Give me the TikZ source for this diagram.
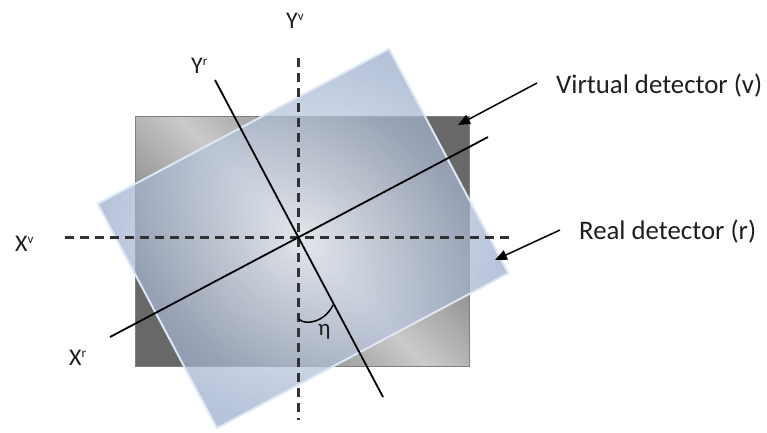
\documentclass[tikz,border=0pt]{standalone}
\usepackage{fontspec}
\setmainfont{Carlito}
\usetikzlibrary{arrows.meta}
\definecolor{gdark}{RGB}{104,104,104}
\definecolor{glight}{RGB}{202,202,202}
\definecolor{binner}{RGB}{236,241,249}
\definecolor{bouter}{RGB}{152,170,202}
\definecolor{bedge}{RGB}{222,231,244}
\definecolor{dashc}{RGB}{50,50,50}
\definecolor{txt}{RGB}{30,30,30}
\begin{document}
\begin{tikzpicture}[x=1pt,y=-1pt,
  axisline/.style={line width=1.8pt, black},
  dax/.style={line width=3pt, dashc, dash pattern=on 9pt off 6pt},
  arr/.style={line width=1.5pt, black, -{Triangle[length=12pt,width=10pt]}},
  lab/.style={font=\fontsize{26.8}{30}\selectfont, text=txt, inner sep=0pt, anchor=base west},
  axl/.style={font=\fontsize{24}{26}\selectfont, text=txt, inner sep=0pt, anchor=base west},
]
\useasboundingbox (0,0) rectangle (767,432);
\fill[white] (0,0) rectangle (767,432);
% gray detector
\shade[top color=gdark, bottom color=gdark, middle color=glight, shading angle=-45] (135,116) rectangle (469,366);
\draw[gray, line width=1pt] (135,116) rectangle (469,366);
% tilted detector
\begin{scope}[shift={(303,238.5)}, rotate=28]
  \path[inner color=binner, outer color=bouter, fill opacity=0.7] (-165,-127) rectangle (165,127);
  \draw[bedge, line width=2pt] (-165,-127) rectangle (165,127);
\end{scope}
% coordinates
\coordinate (O) at (298,237);
\coordinate (yvt) at (298,58);  \coordinate (yvb) at (298,420);
\coordinate (xvl) at (65,237);  \coordinate (xvr) at (513,237);
\coordinate (yrt) at (215,80);  \coordinate (yrb) at (383,397);
\coordinate (xrl) at (110,337); \coordinate (xrr) at (488,137);
% axes
\draw[dax] (xvl) -- (xvr);
\draw[dax] (yvt) -- (yvb);
\draw[axisline] (yrt) -- (yrb);
\draw[axisline] (xrl) -- (xrr);
% angle mark
\coordinate (a1) at (299,319);
\coordinate (a2) at (333,305);
\draw[line width=1.5pt] (a1) .. controls (305,326) and (325,322) .. (a2);
\node[font=\fontsize{23}{24}\selectfont, text=txt, inner sep=0pt, anchor=base west] (eta) at (318,335) {η};
% axis labels
\node[axl] (lyv) at (286,28) {Y\raisebox{7.5pt}{\fontsize{13}{13}\selectfont v}};
\node[axl] (lyr) at (191,73) {Y\raisebox{7.5pt}{\fontsize{13}{13}\selectfont r}};
\node[axl] (lxv) at (15,251) {X\raisebox{7.5pt}{\fontsize{13}{13}\selectfont v}};
\node[axl] (lxr) at (69,365) {X\raisebox{7.5pt}{\fontsize{13}{13}\selectfont r}};
% detector labels and arrows
\node[lab] (lv) at (556,93) {Virtual detector (v)};
\node[lab] (lr) at (579,239) {Real detector (r)};
\coordinate (vs) at (537,83); \coordinate (vt) at (458,125);
\coordinate (rs) at (560,230); \coordinate (rt) at (495,260);
\draw[arr] (vs) -- (vt);
\draw[arr] (rs) -- (rt);
\end{tikzpicture}
\end{document}
